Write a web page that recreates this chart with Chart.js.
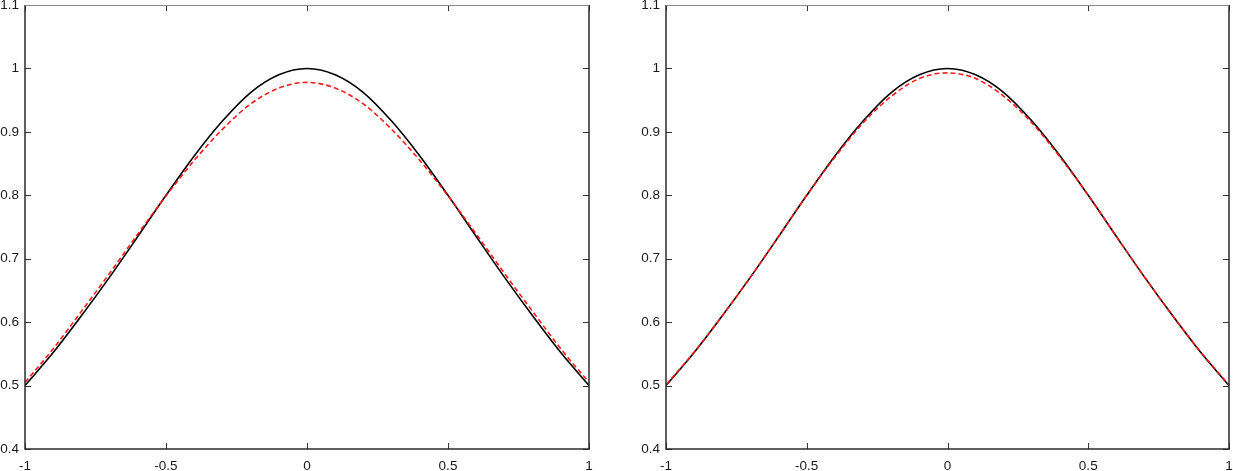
<!DOCTYPE html>
<html>
<head>
<meta charset="utf-8">
<script src="https://cdn.jsdelivr.net/npm/chart.js@4/dist/chart.umd.min.js"></script>
<style>
  html, body { margin: 0; padding: 0; background: #fff; }
  #wrap { position: relative; width: 1233px; height: 471px; }
  canvas { position: absolute; top: 0; }
  #left { left: 0; }
  #right { left: 600px; }
</style>
</head>
<body>
<div id="wrap">
  <canvas id="left" width="600" height="471"></canvas>
  <canvas id="right" width="633" height="471"></canvas>
</div>
<script>
// x positions where the curves were read
var xs = [-1, -0.9, -0.8, -0.7, -0.6, -0.5, -0.4, -0.3, -0.2, -0.1, 0,
          0.1, 0.2, 0.3, 0.4, 0.5, 0.6, 0.7, 0.8, 0.9, 1];

// black solid curve (same in both panels)
var exact = [0.500, 0.552, 0.610, 0.671, 0.735, 0.800, 0.862, 0.917, 0.962, 0.990, 1.000,
             0.990, 0.962, 0.917, 0.862, 0.800, 0.735, 0.671, 0.610, 0.552, 0.500];

// red dashed curve, left panel
var approxLeft = [0.505, 0.558, 0.617, 0.677, 0.739, 0.799, 0.855, 0.904, 0.944, 0.969, 0.978,
                  0.969, 0.944, 0.904, 0.855, 0.799, 0.739, 0.677, 0.617, 0.558, 0.505];

// red dashed curve, right panel
var approxRight = [0.501, 0.553, 0.610, 0.671, 0.735, 0.800, 0.860, 0.914, 0.956, 0.984, 0.993,
                   0.984, 0.956, 0.914, 0.860, 0.800, 0.735, 0.671, 0.610, 0.553, 0.501];

var xTicks = [-1, -0.5, 0, 0.5, 1];
var yMin = 0.4, yMax = 1.1;

function pts(ys) {
    return xs.map(function (x, i) { return { x: x, y: ys[i] }; });
}

function fmt(v) {
    return String(Number(v.toFixed(2)));
}

// draws the box and the inward tick marks
var frame = {
    id: "frame",
    afterDraw: function (chart) {
        var ctx = chart.ctx;
        var a = chart.chartArea;
        var len = 6;
        ctx.save();
        ctx.lineWidth = 1;
        ctx.strokeStyle = "#333";
        ctx.beginPath();
        chart.scales.x.ticks.forEach(function (t) {
            var px = Math.round(chart.scales.x.getPixelForValue(t.value)) + 0.5;
            ctx.moveTo(px, a.bottom); ctx.lineTo(px, a.bottom - len);
            ctx.moveTo(px, a.top); ctx.lineTo(px, a.top + len);
        });
        chart.scales.y.ticks.forEach(function (t) {
            var py = Math.round(chart.scales.y.getPixelForValue(t.value)) + 0.5;
            ctx.moveTo(a.left, py); ctx.lineTo(a.left + len, py);
            ctx.moveTo(a.right, py); ctx.lineTo(a.right - len, py);
        });
        ctx.stroke();

        ctx.lineWidth = 1.5;
        ctx.strokeStyle = "#2b2b2b";
        ctx.beginPath();
        ctx.moveTo(a.left, a.top); ctx.lineTo(a.left, a.bottom); ctx.lineTo(a.right, a.bottom);
        ctx.lineTo(a.right, a.top);
        ctx.stroke();
        ctx.strokeStyle = "#8a8a8a";
        ctx.lineWidth = 1;
        ctx.beginPath();
        ctx.moveTo(a.left, a.top + 0.5); ctx.lineTo(a.right, a.top + 0.5);
        ctx.stroke();
        ctx.restore();
    }
};

function makeChart(id, approx, yWidth, padRight) {
    return new Chart(document.getElementById(id), {
        type: "line",
        data: {
            datasets: [
                {
                    data: pts(exact),
                    borderColor: "#000",
                    borderWidth: 1.6,
                    pointRadius: 0,
                    cubicInterpolationMode: "monotone",
                    fill: false,
                    order: 1
                },
                {
                    data: pts(approx),
                    borderColor: "#ff1a1a",
                    borderWidth: 1.6,
                    borderDash: [5, 3],
                    pointRadius: 0,
                    cubicInterpolationMode: "monotone",
                    fill: false,
                    order: 0
                }
            ]
        },
        options: {
            responsive: false,
            animation: false,
            events: [],
            layout: { padding: { top: 5, right: padRight, left: 0, bottom: 0 } },
            plugins: { legend: { display: false }, tooltip: { enabled: false } },
            scales: {
                x: {
                    type: "linear",
                    min: -1,
                    max: 1,
                    grid: { display: false, drawTicks: false },
                    border: { display: false },
                    afterBuildTicks: function (s) {
                        s.ticks = xTicks.map(function (v) { return { value: v }; });
                    },
                    ticks: {
                        padding: 9, color: "#1a1a1a", maxRotation: 0,
                        font: { family: "Liberation Sans", size: 13.5 },
                        callback: function (v) { return fmt(v); }
                    },
                    afterFit: function (s) { s.height = 22; s.paddingLeft = 0; s.paddingRight = 0; }
                },
                y: {
                    min: yMin,
                    max: yMax,
                    grid: { display: false, drawTicks: false },
                    border: { display: false },
                    ticks: {
                        stepSize: 0.1, padding: 6, color: "#1a1a1a",
                        font: { family: "Liberation Sans", size: 13.5 },
                        callback: function (v) { return fmt(v); }
                    },
                    afterFit: function (s) { s.width = yWidth; s.paddingTop = 0; s.paddingBottom = 0; }
                }
            }
        },
        plugins: [frame]
    });
}

Chart.defaults.font.family = "Liberation Sans";
makeChart("left", approxLeft, 25, 11);
makeChart("right", approxRight, 66, 4);
</script>
</body>
</html>
